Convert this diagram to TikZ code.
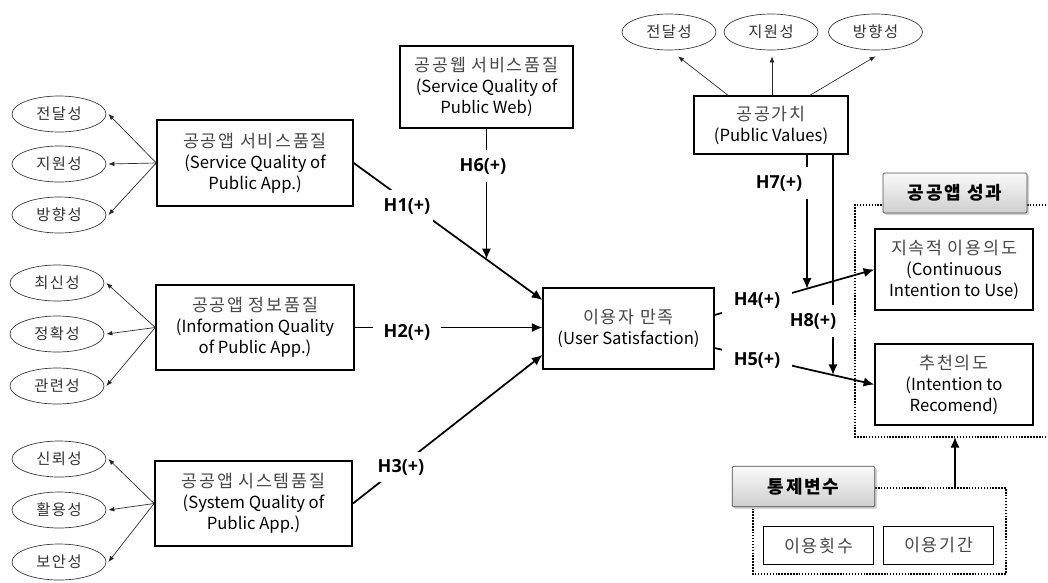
\documentclass[tikz,border=0pt]{standalone}
\usepackage{fontspec}
\setmainfont{Noto Sans CJK KR}
\newfontfamily\kofont{Noto Sans CJK KR}[LetterSpace=10]
\newfontfamily\hfont{Open Sans}
\usetikzlibrary{arrows.meta,calc,shadows,shapes.geometric}
\begin{document}
\begin{tikzpicture}[x=0.75pt,y=-0.75pt,
  every node/.style={font=\fontsize{12.5}{15.75}\selectfont, align=center},
  bx/.style={draw, line width=1.1pt, inner sep=0pt, fill=white},
  ell/.style={draw=black!80, ellipse, line width=0.5pt, minimum width=70.5pt, minimum height=27pt, inner sep=0pt, font=\kofont\fontsize{11.5}{13}\selectfont, text=black!80},
  garr/.style={line width=1.3pt, -{Latex[length=8pt,width=7pt]}},
  tarr/.style={line width=0.5pt, draw=black!85, -{Latex[length=4.5pt,width=3.5pt]}},
  hlab/.style={fill=white, font=\hfont\bfseries\fontsize{13.5}{15}\selectfont, inner xsep=2pt, inner ysep=4pt},
  gbox/.style={draw=black!70, line width=0.6pt, rounded corners=1pt, top color=gray!4, bottom color=gray!38, drop shadow={opacity=0.35, shadow xshift=1.5pt, shadow yshift=-1.5pt}, font=\kofont\bfseries\fontsize{13.5}{15}\selectfont, inner sep=0pt},
  dotbox/.style={line width=1pt, dash pattern=on 1.1pt off 1.1pt}
]
\useasboundingbox (0,0) rectangle (1048,582);

% dotted groups
\draw[dotbox] (1052,205) -- (855,205) -- (855,437) -- (1052,437);
\draw[dotbox] (753,488) rectangle (1006,574);
\coordinate (c1) at (955,488);
\coordinate (c2) at (955,437);

% gray title boxes
\node[gbox, minimum width=108pt, minimum height=30pt] (perf) at (955,193) {공공앱 성과};
\node[gbox, minimum width=107pt, minimum height=30.5pt] (ctrl) at (803.5,486.5) {통제변수};

% boxes
\newcommand{\kt}[1]{{\kofont\fontsize{13}{15.75}\selectfont\textcolor{black!72}{#1}}}
\node[bx, minimum width=147pt, minimum height=64.5pt] (svc) at (255,163) {\kt{공공앱 서비스품질}\\(Service Quality of\\Public App.)};
\node[bx, minimum width=148.5pt, minimum height=64pt] (info) at (255,327.5) {\kt{공공앱 정보품질}\\(Information Quality\\of Public App.)};
\node[bx, minimum width=148pt, minimum height=64pt] (sys) at (253.5,503.5) {\kt{공공앱 시스템품질}\\(System Quality of\\Public App.)};
\node[bx, minimum width=130pt, minimum height=61.5pt] (web) at (486.5,87) {\kt{공공웹 서비스품질}\\(Service Quality of\\Public Web)};
\node[bx, minimum width=128pt, minimum height=61pt] (sat) at (628.5,328.5) {\kt{이용자 만족}\\(User Satisfaction)};
\node[bx, minimum width=115.5pt, minimum height=43.5pt] (pv) at (771,125) {\kt{공공가치}\\(Public Values)};
\node[bx, minimum width=118.5pt, minimum height=61pt] (cont) at (954,269.5) {\kt{지속적 이용의도}\\(Continuous\\Intention to Use)};
\node[bx, minimum width=118.5pt, minimum height=61pt] (rec) at (954,384.5) {\kt{추천의도}\\(Intention to\\Recomend)};
\node[bx, line width=0.9pt, minimum width=82pt, minimum height=28pt] (cnt) at (818.5,545.5) {\kt{이용횟수}};
\node[bx, line width=0.9pt, minimum width=83pt, minimum height=28pt] (per) at (938.5,545.5) {\kt{이용기간}};

% ellipses
\node[ell] (a1) at (59,114) {전달성};
\node[ell] (a2) at (59,164) {지원성};
\node[ell] (a3) at (59,215) {방향성};
\node[ell] (b1) at (57,283) {최신성};
\node[ell] (b2) at (57,334) {정확성};
\node[ell] (b3) at (57,386) {관련성};
\node[ell] (d1) at (59,459) {신뢰성};
\node[ell] (d2) at (59,510) {활용성};
\node[ell] (d3) at (59,562) {보안성};
\node[ell] (t1) at (669,32) {전달성};
\node[ell] (t2) at (771,32) {지원성};
\node[ell] (t3) at (875.5,32) {방향성};

% thin indicator arrows
\foreach \e in {a1,a2,a3} \draw[tarr] (svc.west) -- ($(\e.east)+(2,0)$);
\foreach \e in {b1,b2,b3} \draw[tarr] (info.west) -- ($(\e.east)+(2,0)$);
\foreach \e in {d1,d2,d3} \draw[tarr] (sys.west) -- ($(\e.east)+(2,0)$);
\draw[tarr] ($(pv.north)+(-43,0)$) -- ($(t1.south)+(9,6)$);
\draw[tarr] ($(pv.north)+(1,0)$) -- ($(t2.south)+(1,6)$);
\draw[tarr] ($(pv.north)+(39,0)$) -- ($(t3.south)+(0,6)$);

% structural paths
\coordinate (h1e) at ($(sat.west)+(0,-28.5)$);
\coordinate (h3e) at ($(sat.west)+(0,26.5)$);
\coordinate (h4s) at ($(sat.east)+(0,-13.5)$);
\coordinate (h5s) at ($(sat.east)+(0,19.5)$);
\draw[garr] (svc.east) -- (h1e);
\draw[garr] (info.east) -- (info.east -| sat.west);
\draw[garr] (sys.east) -- (h3e);
\draw[garr] (h4s) -- (cont.west);
\draw[garr] (h5s) -- (rec.west);
\coordinate (h6t) at ($(svc.east)!0.7026!(h1e)$);
\draw[garr] (web.south) -- (web.south |- h6t);
\coordinate (h7t) at ($(h4s)!0.5776!(cont.west)$);
\coordinate (h8t) at ($(h5s)!0.739!(rec.west)$);
\coordinate (p7) at ($(pv.south)+(36,0)$);
\coordinate (p8) at ($(pv.south)+(62,0)$);
\draw[garr] (p7) -- (p7 |- h7t);
\draw[garr] (p8) -- (p8 |- h8t);
\draw[garr] (c1) -- (c2);

% labels
\node[hlab, inner ysep=6pt] (l1) at (407,206) {H1(+)};
\node[hlab, inner xsep=8pt] (l2) at (407,332) {H2(+)};
\node[hlab, inner ysep=5pt] (l3) at (401,467) {H3(+)};
\node[hlab, inner xsep=9pt, inner ysep=5pt] (l4) at (757,300) {H4(+)};
\node[hlab, inner xsep=9pt, inner ysep=5pt] (l5) at (757,360) {H5(+)};
\node[hlab, inner ysep=6pt] (l6) at (483,166) {H6(+)};
\node[hlab, minimum width=51pt, inner ysep=6pt] (l7) at (779,183) {H7(+)};
\node[hlab, minimum width=46pt, inner ysep=6pt] (l8) at (813,321) {H8(+)};
\end{tikzpicture}
\end{document}
